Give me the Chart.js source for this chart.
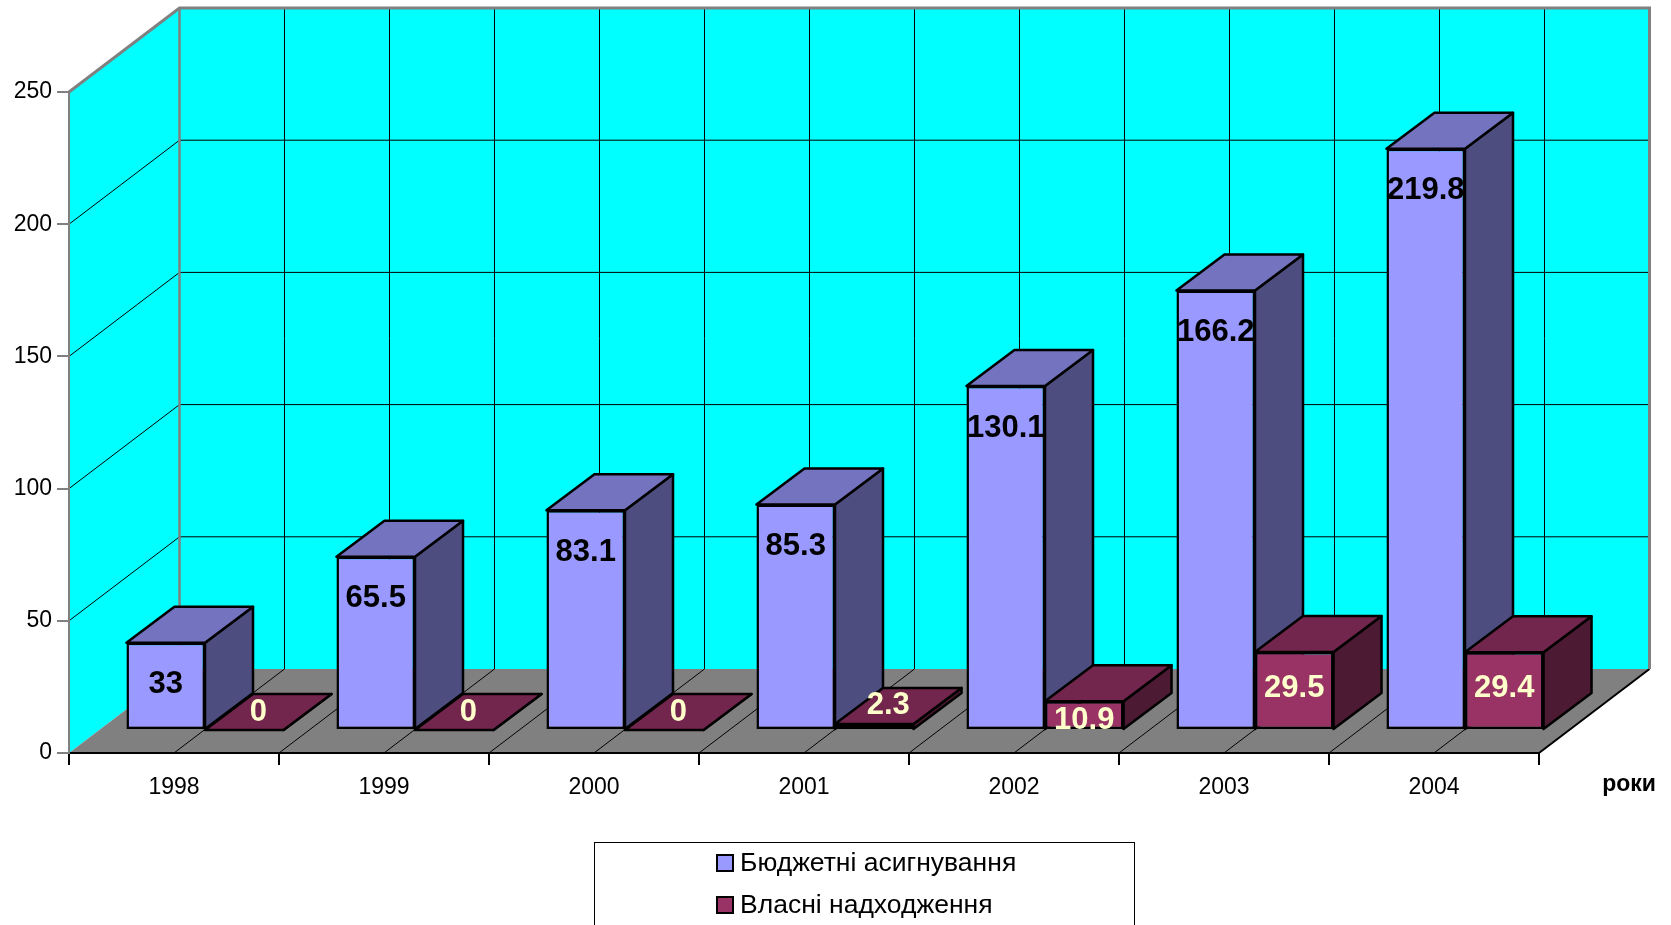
<!DOCTYPE html>
<html>
<head>
<meta charset="utf-8">
<script src="https://cdn.jsdelivr.net/npm/chart.js@4/dist/chart.umd.min.js"></script>
<style>
  html, body { margin: 0; padding: 0; background: #fff; }
  canvas { display: block; }
</style>
</head>
<body>
<canvas id="chart" width="1671" height="925"></canvas>
<script>
const years = ['1998', '1999', '2000', '2001', '2002', '2003', '2004'];
const budget = [33, 65.5, 83.1, 85.3, 130.1, 166.2, 219.8];
const ownIncome = [0, 0, 0, 2.3, 10.9, 29.5, 29.4];
const seriesNames = ['Бюджетні асигнування', 'Власні надходження'];
const yTicks = [0, 50, 100, 150, 200, 250];
const axisTitle = 'роки';

const FONT = "'Liberation Sans', Arial, sans-serif";
Chart.defaults.font.family = FONT;

// oblique projection offsets (px)
const WALL = { dx: 110.5, dy: -84 };  // front plane -> back wall
const FACE = { dx: 31, dy: -23 };     // front plane -> bar front faces
const DEPTH = { dx: 48, dy: -36 };    // bar depth

const colors = [
  { front: '#9999FF', top: '#7373BF', side: '#4D4D80', label: '#000000' },
  { front: '#993366', top: '#73264D', side: '#4D1A33', label: '#FFFFCC' },
];

function poly(ctx, pts, fill, stroke, lw) {
  ctx.beginPath();
  ctx.moveTo(pts[0][0], pts[0][1]);
  for (let i = 1; i < pts.length; i++) ctx.lineTo(pts[i][0], pts[i][1]);
  ctx.closePath();
  if (fill) { ctx.fillStyle = fill; ctx.fill(); }
  if (stroke) { ctx.strokeStyle = stroke; ctx.lineWidth = lw || 1; ctx.stroke(); }
}

function line(ctx, x1, y1, x2, y2) {
  ctx.beginPath();
  ctx.moveTo(x1, y1);
  ctx.lineTo(x2, y2);
  ctx.stroke();
}

const box3d = {
  id: 'box3d',
  beforeDraw(chart) {
    const { ctx, chartArea: a, scales: { x, y } } = chart;
    const L = a.left, R = a.right;
    const T = y.getPixelForValue(yTicks[yTicks.length - 1]);
    const B = y.getPixelForValue(0);
    const bx = WALL.dx, by = WALL.dy;
    const half = (x.getPixelForValue(1) - x.getPixelForValue(0)) / 2;

    ctx.save();
    poly(ctx, [[L, T], [L, B], [L + bx, B + by], [L + bx, T + by]], '#00FFFF');
    poly(ctx, [[L + bx, T + by], [R + bx, T + by], [R + bx, B + by], [L + bx, B + by]], '#00FFFF');
    poly(ctx, [[L, B], [R, B], [R + bx, B + by], [L + bx, B + by]], '#808080');

    ctx.strokeStyle = '#000';
    ctx.lineWidth = 1;
    yTicks.slice(1, -1).forEach(v => {
      const py = y.getPixelForValue(v);
      line(ctx, L, py, L + bx, py + by);
      line(ctx, L + bx, py + by, R + bx, py + by);
    });
    for (let k = 1; k < years.length * 2; k++) {
      const px = L + k * half;
      line(ctx, px + bx, T + by, px + bx, B + by);
      line(ctx, px, B, px + bx, B + by);
    }
    ctx.lineWidth = 2;
    line(ctx, R, B, R + bx, B + by);

    // wall borders
    ctx.strokeStyle = '#808080';
    ctx.lineWidth = 3;
    ctx.beginPath();
    ctx.moveTo(L, T);
    ctx.lineTo(L + bx, T + by);
    ctx.lineTo(R + bx, T + by);
    ctx.lineTo(R + bx, B + by);
    ctx.stroke();
    ctx.lineWidth = 2.5;
    line(ctx, L + bx, T + by, L + bx, B + by);
    ctx.restore();
  },
  beforeDatasetsDraw(chart) {
    const ctx = chart.ctx;
    ctx.save();
    ctx.translate(FACE.dx, FACE.dy);
    ctx.lineJoin = 'round';
    const metas = [chart.getDatasetMeta(0), chart.getDatasetMeta(1)];
    years.forEach((_, i) => {
      metas.forEach((meta, d) => {
        const el = meta.data[i];
        const xl = el.x - el.width / 2, xr = el.x + el.width / 2;
        const yt = el.y, yb = el.base;
        poly(ctx, [[xr, yt], [xr + DEPTH.dx, yt + DEPTH.dy], [xr + DEPTH.dx, yb + DEPTH.dy], [xr, yb]],
          colors[d].side, '#000', 2.5);
        poly(ctx, [[xl, yt], [xr, yt], [xr + DEPTH.dx, yt + DEPTH.dy], [xl + DEPTH.dx, yt + DEPTH.dy]],
          colors[d].top, '#000', 2.5);
      });
    });
  },
  afterDatasetsDraw(chart) {
    const ctx = chart.ctx;
    ctx.font = 'bold 31px ' + FONT;
    ctx.textAlign = 'center';
    ctx.textBaseline = 'middle';
    [budget, ownIncome].forEach((vals, d) => {
      chart.getDatasetMeta(d).data.forEach((el, i) => {
        const h = el.base - el.y;
        let lx = el.x, ly;
        if (h < 15) {
          lx += 14;
          ly = el.y - 18;
        } else {
          ly = el.y + Math.min(d === 0 ? 42 : 36, h * 0.7);
        }
        ctx.fillStyle = colors[d].label;
        ctx.fillText(String(vals[i]), lx, ly);
      });
    });
    ctx.restore();
  },
  afterDraw(chart) {
    const ctx = chart.ctx;
    ctx.save();
    ctx.fillStyle = '#000';
    ctx.font = 'bold 23px ' + FONT;
    ctx.textAlign = 'center';
    ctx.textBaseline = 'middle';
    ctx.fillText(axisTitle, 1629, 785);

    // legend box
    ctx.strokeStyle = '#000';
    ctx.lineWidth = 1;
    ctx.strokeRect(594.5, 842.5, 540, 120);
    ctx.font = '26.5px ' + FONT;
    ctx.textAlign = 'left';
    [863, 905].forEach((cy, d) => {
      ctx.fillStyle = colors[d].front;
      ctx.fillRect(717, cy - 8, 16, 16);
      ctx.strokeStyle = '#000';
      ctx.lineWidth = 2;
      ctx.strokeRect(717, cy - 8, 16, 16);
      ctx.fillStyle = '#000';
      ctx.fillText(seriesNames[d], 740, cy + 1);
    });
    ctx.restore();
  }
};

new Chart(document.getElementById('chart'), {
  type: 'bar',
  data: {
    labels: years,
    datasets: [
      { label: seriesNames[0], data: budget, backgroundColor: colors[0].front },
      { label: seriesNames[1], data: ownIncome, backgroundColor: colors[1].front },
    ],
  },
  options: {
    responsive: false,
    animation: false,
    devicePixelRatio: 1,
    layout: { padding: { left: 0, top: 92, right: 132, bottom: 0 } },
    datasets: {
      bar: {
        categoryPercentage: 0.748,
        barPercentage: 1,
        borderColor: '#000',
        borderWidth: 2.5,
        borderSkipped: false,
        clip: false,
      },
    },
    plugins: {
      legend: { display: false },
      tooltip: { enabled: false },
    },
    scales: {
      x: {
        grid: { offset: true, drawOnChartArea: false, drawTicks: true, tickLength: 12, tickColor: '#000', lineWidth: 2 },
        border: { display: true, color: '#000', width: 2 },
        ticks: { color: '#000', font: { size: 23 }, padding: 9 },
        afterFit(s) { s.height = 172; },
      },
      y: {
        min: 0,
        max: 250,
        afterBuildTicks(s) { s.ticks = yTicks.map(v => ({ value: v })); },
        grid: { drawOnChartArea: false, drawTicks: true, tickLength: 12, tickColor: '#808080', lineWidth: 2 },
        border: { display: true, color: '#808080', width: 2 },
        ticks: { color: '#000', font: { size: 23 }, padding: 5 },
        afterFit(s) { s.width = 69; },
      },
    },
  },
  plugins: [box3d],
});
</script>
</body>
</html>
